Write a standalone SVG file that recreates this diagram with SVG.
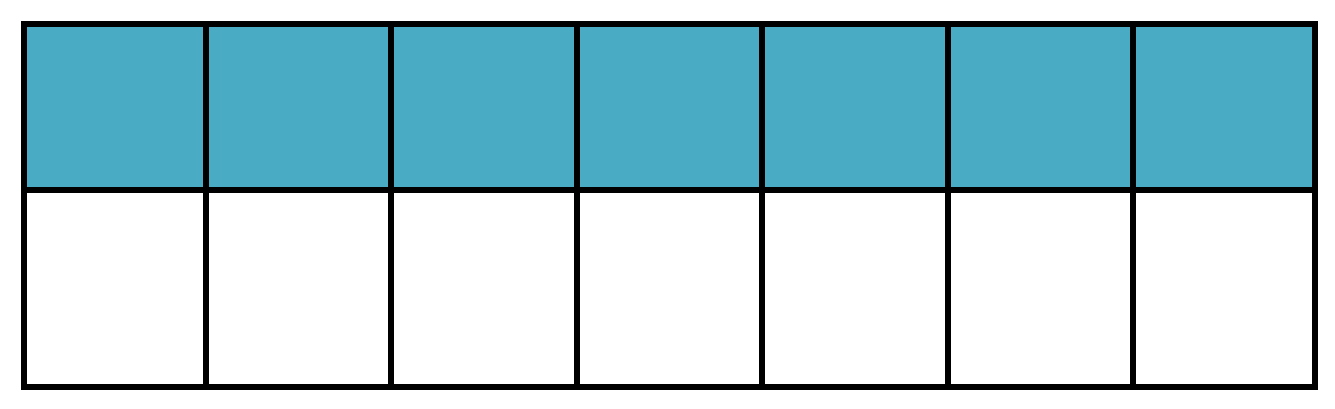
<svg xmlns="http://www.w3.org/2000/svg" width="1335" height="409" viewBox="0 0 1335 409">
<style>
.top{fill:#4AABC5}
.bot{fill:#FFFFFF}
.grid{stroke:#000000;stroke-width:6;fill:none;stroke-linecap:square}
</style>
<rect width="1335" height="409" fill="#FFFFFF"/>
<g id="top-row">
<rect class="top" x="24" y="24" width="1291" height="166"/>
</g>
<g id="bottom-row">
<rect class="bot" x="24" y="190" width="1291" height="197"/>
</g>
<g id="grid">
<rect class="grid" x="24" y="24" width="1291" height="363"/>
<path class="grid" d="M24 190H1315M206 24V387M391 24V387M577 24V387M762 24V387M948 24V387M1133 24V387"/>
</g>
</svg>
